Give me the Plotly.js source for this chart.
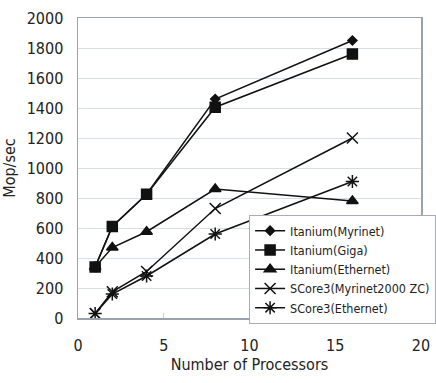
<!DOCTYPE html>
<html><head><meta charset="utf-8">
<script src="https://cdn.plot.ly/plotly-3.0.1.min.js"></script>
<style>html,body{margin:0;padding:0;background:#fff;}#chart{width:436px;height:383px;}</style>
</head><body><div id="chart"></div>
<script>
const processors = [1, 2, 4, 8, 16];
const seriesNames = ["Itanium(Myrinet)", "Itanium(Giga)", "Itanium(Ethernet)", "SCore3(Myrinet2000 ZC)", "SCore3(Ethernet)"];
const itaniumMyrinet = [340, 610, 825, 1460, 1850];
const itaniumGiga = [340, 610, 825, 1405, 1760];
const itaniumEthernet = [340, 470, 575, 860, 780];
const score3Myrinet = [30, 175, 310, 730, 1200];
const score3Ethernet = [30, 160, 280, 560, 910];
const symbols = ["diamond", "square", "triangle-up", "x-thin-open", "asterisk-open"];
const sizes = [7, 10, 10, 11, 11];
const values = [itaniumMyrinet, itaniumGiga, itaniumEthernet, score3Myrinet, score3Ethernet];
const FONT = "'DejaVu Sans Condensed', 'Liberation Sans Narrow', 'Arial Narrow', sans-serif";
const traces = values.map((v, i) => ({
  x: processors, y: v, name: seriesNames[i], type: 'scatter', mode: 'lines+markers',
  line: {color: '#111', width: 1.5},
  marker: {symbol: symbols[i], size: sizes[i], color: '#111', line: {color: '#111', width: 1.5}}
}));
const layout = {
  width: 436, height: 383,
  margin: {l: 78, r: 15, t: 18, b: 65, autoexpand: false},
  paper_bgcolor: '#fff', plot_bgcolor: '#fff',
  font: {family: FONT, color: '#222', size: 16},
  showlegend: true,
  legend: {x: 1.044, y: 0.343, xanchor: 'right', yanchor: 'top', bgcolor: '#fff',
    bordercolor: '#aab', borderwidth: 1, font: {family: FONT, size: 12.5, color: '#222'},
    tracegroupgap: 0, itemwidth: 30},
  xaxis: {range: [0, 20], dtick: 5, tick0: 0, showgrid: false, zeroline: false,
    showline: true, linecolor: '#9aa3ad', linewidth: 1.5, mirror: true,
    ticks: 'inside', ticklen: 5, tickcolor: '#c8d0da', ticklabelstandoff: 12,
    title: {text: 'Number of Processors', font: {family: FONT, size: 16}, standoff: 5},
    tickfont: {family: FONT, size: 16}},
  yaxis: {range: [0, 2000], dtick: 200, tick0: 0, showgrid: true, gridcolor: '#d6dee8', gridwidth: 1,
    zeroline: false, showline: true, linecolor: '#9aa3ad', linewidth: 1.5, mirror: true,
    ticks: '', ticklabelstandoff: 10, title: {text: 'Mop/sec', font: {family: FONT, size: 16}, standoff: 12},
    tickfont: {family: FONT, size: 16}}
};
Plotly.newPlot('chart', traces, layout, {displayModeBar: false, staticPlot: true});
</script></body></html>
